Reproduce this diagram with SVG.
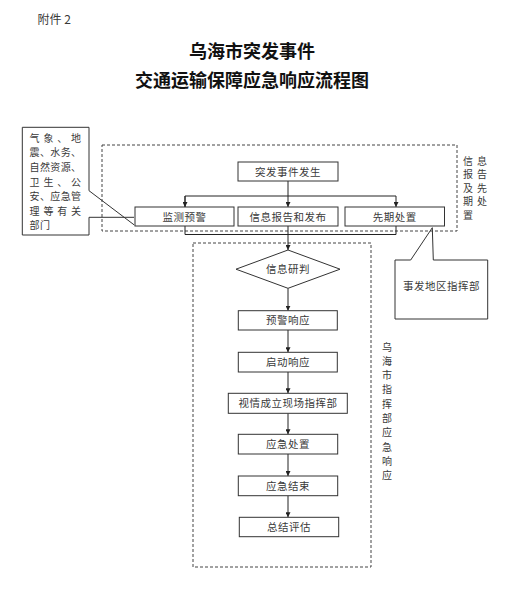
<svg xmlns="http://www.w3.org/2000/svg" width="529" height="600" viewBox="0 0 529 600">
<style>
  .t { font-family: "Noto Sans CJK SC", "Noto Sans", sans-serif; fill: #3a3a3a; }
  .box { font-size: 10.5px; letter-spacing: 0.5px; text-anchor: middle; }
  .small { font-size: 10px; }
  .vt { font-size: 10px; text-anchor: middle; }
  .shape { fill: #fff; stroke: #333; stroke-width: 1; }
  .outline { fill: none; stroke: #333; stroke-width: 1; }
  .dash { fill: none; stroke: #444; stroke-width: 1; stroke-dasharray: 3 2; }
  .conn { fill: none; stroke: #222; stroke-width: 1; }
  .title { font-family: "Noto Sans CJK SC", sans-serif; font-size: 18px; font-weight: bold; fill: #111; text-anchor: middle; }
</style>
<defs>
  <marker id="arr" viewBox="0 0 8 8" refX="8" refY="4" markerWidth="5" markerHeight="5" orient="auto" markerUnits="userSpaceOnUse">
    <path d="M0,0 L8,4 L0,8 Z" fill="#222"/>
  </marker>
</defs>
<rect width="529" height="600" fill="#fff"/>

<text class="t" x="37.5" y="23.5" font-size="12" fill="#222">附件 2</text>
<text class="title" x="252" y="58">乌海市突发事件</text>
<text class="title" x="252" y="87">交通运输保障应急响应流程图</text>

<g id="group-info">
  <rect class="dash" x="102" y="145" width="355" height="86"/>
  <text class="t vt" x="468" y="164.5">信</text>
  <text class="t vt" x="482" y="164.5">息</text>
  <text class="t vt" x="468" y="178">报</text>
  <text class="t vt" x="482" y="178">告</text>
  <text class="t vt" x="468" y="191.5">及</text>
  <text class="t vt" x="482" y="191.5">先</text>
  <text class="t vt" x="468" y="205">期</text>
  <text class="t vt" x="482" y="205">处</text>
  <text class="t vt" x="468" y="218.5">置</text>
</g>

<g id="group-response">
  <rect class="dash" x="193" y="243" width="178" height="324"/>
  <text class="t vt" x="387" y="350.5">乌</text>
  <text class="t vt" x="387" y="364.8">海</text>
  <text class="t vt" x="387" y="379.1">市</text>
  <text class="t vt" x="387" y="393.4">指</text>
  <text class="t vt" x="387" y="407.7">挥</text>
  <text class="t vt" x="387" y="422">部</text>
  <text class="t vt" x="387" y="436.3">应</text>
  <text class="t vt" x="387" y="450.6">急</text>
  <text class="t vt" x="387" y="464.9">响</text>
  <text class="t vt" x="387" y="479.2">应</text>
</g>

<g id="connectors">
  <path class="conn" d="M288,181 V207" marker-end="url(#arr)"/>
  <path class="conn" d="M185,207 V196 H396 V207" marker-end="url(#arr)"/>
  <path class="conn" d="M185,196 V207" marker-end="url(#arr)"/>
  <path class="conn" d="M185,226 V234.5 H396 V226"/>
  <path class="conn" d="M288,226 V250" marker-end="url(#arr)"/>
  <path class="conn" d="M288,288.3 V310.7" marker-end="url(#arr)"/>
  <path class="conn" d="M288,330 V352.3" marker-end="url(#arr)"/>
  <path class="conn" d="M288,372 V393.3" marker-end="url(#arr)"/>
  <path class="conn" d="M288,413.3 V434.3" marker-end="url(#arr)"/>
  <path class="conn" d="M288,454 V476" marker-end="url(#arr)"/>
  <path class="conn" d="M288,495.7 V517.3" marker-end="url(#arr)"/>
</g>

<g id="node-depts">
  <path class="outline" d="M134,217.3 L89,217.3 L89,235 L22.3,235 L22.3,127.3 L89,127.3 L89,190.7 L134.3,225"/>
  <text class="t small" y="141.8" x="29.5 43.4 57.3 71.1">气象、地</text>
  <text class="t small" y="156.4" x="29.5 39.9 50.3 60.7 71.1">震、水务、</text>
  <text class="t small" y="171" x="29.5 39.9 50.3 60.7 71.1">自然资源、</text>
  <text class="t small" y="185.6" x="29.5 43.4 57.3 71.1">卫生、公</text>
  <text class="t small" y="200.2" x="29.5 39.9 50.3 60.7 71.1">安、应急管</text>
  <text class="t small" y="214.8" x="29.5 43.4 57.3 71.1">理等有关</text>
  <text class="t small" y="229.4" x="29.5 39.9">部门</text>
</g>

<g id="node-event">
  <rect class="shape" x="238" y="162" width="100" height="19"/>
  <text class="t box" x="288" y="175.5">突发事件发生</text>
</g>
<g id="node-monitor">
  <rect class="shape" x="135" y="207" width="99" height="19"/>
  <text class="t box" x="184.5" y="220.5">监测预警</text>
</g>
<g id="node-report">
  <rect class="shape" x="238" y="207" width="100" height="19"/>
  <text class="t box" x="288" y="220.5">信息报告和发布</text>
</g>
<g id="node-initial">
  <rect class="shape" x="345" y="207" width="99.5" height="19"/>
  <text class="t box" x="394.7" y="220.5">先期处置</text>
</g>
<g id="node-local">
  <path class="outline" d="M432.3,227.7 L410.7,260 L395,260 L395,319 L487.7,319 L487.7,260 L433.3,260 Z"/>
  <text class="t box" x="441.5" y="290">事发地区指挥部</text>
</g>
<g id="node-judge">
  <polygon class="shape" points="288,250 340,269.2 288,288.3 236,269.2"/>
  <text class="t box" x="288" y="273">信息研判</text>
</g>
<g id="node-warn">
  <rect class="shape" x="238.3" y="310.7" width="99" height="19.3"/>
  <text class="t box" x="288" y="324">预警响应</text>
</g>
<g id="node-start">
  <rect class="shape" x="238.3" y="352.3" width="99" height="19.7"/>
  <text class="t box" x="288" y="366">启动响应</text>
</g>
<g id="node-site">
  <rect class="shape" x="228.3" y="393.3" width="119" height="20"/>
  <text class="t box" x="288" y="407.2">视情成立现场指挥部</text>
</g>
<g id="node-handle">
  <rect class="shape" x="238.3" y="434.3" width="99.4" height="19.7"/>
  <text class="t box" x="288" y="448">应急处置</text>
</g>
<g id="node-end">
  <rect class="shape" x="238.3" y="476" width="99.4" height="19.7"/>
  <text class="t box" x="288" y="489.7">应急结束</text>
</g>
<g id="node-eval">
  <rect class="shape" x="239.3" y="517.3" width="99.4" height="19.4"/>
  <text class="t box" x="289" y="531">总结评估</text>
</g>
</svg>
